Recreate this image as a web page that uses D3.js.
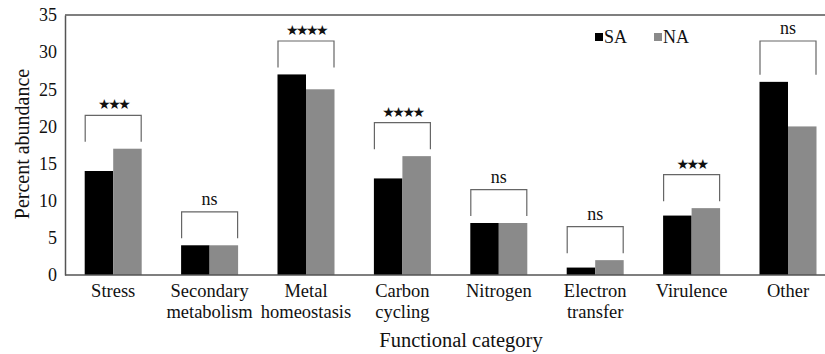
<!DOCTYPE html>
<html>
<head>
<meta charset="utf-8">
<script src="https://cdn.jsdelivr.net/npm/d3@7"></script>
<style>
  html, body { margin: 0; padding: 0; background: #fff; }
  svg { display: block; }
</style>
</head>
<body>
<svg id="chart" width="825" height="354"></svg>
<script>
// Functional categories (two-line labels split on "\n")
const categories = ["Stress", "Secondary\nmetabolism", "Metal\nhomeostasis", "Carbon\ncycling",
                    "Nitrogen", "Electron\ntransfer", "Virulence", "Other"];
const seriesNames = ["SA", "NA"];
const saValues = [14, 4, 27, 13, 7, 1, 8, 26];
const naValues = [17, 4, 25, 16, 7, 2, 9, 20];
// Significance annotations and the level (in %) of each bracket's top bar
const significance = ["★★★", "ns", "★★★★", "★★★★", "ns", "ns", "★★★", "ns"];
const bracketLevel = [21.5, 8.5, 31.5, 20.5, 11.5, 6.5, 13.5, 31.5];
const yTicks = [0, 5, 10, 15, 20, 25, 30, 35];
const colors = { SA: "#000000", NA: "#8a8a8a" };

const SERIF = "'Liberation Serif', 'Times New Roman', serif";
const W = 825, H = 354;
const margin = { top: 15, right: 0, bottom: 79, left: 65 };
const svg = d3.select("#chart");

const plotBottom = H - margin.bottom;
const step = 96.4;
const x = d3.scaleBand()
  .domain(categories)
  .range([margin.left, margin.left + step * categories.length])
  .paddingInner(0).paddingOuter(0);
const bandInner = 57;   // width of the SA+NA pair
const xs = d3.scaleBand().domain(seriesNames).range([0, bandInner]);
const y = d3.scaleLinear().domain([0, 35]).range([plotBottom, margin.top]);

const axisColor = "#555";
const txtColor = "#111";

// Bars
const rows = categories.map((c, i) => ({ c, SA: saValues[i], NA: naValues[i], i }));
const groups = svg.append("g").selectAll("g").data(rows).join("g")
  .attr("transform", d => `translate(${x(d.c) + (x.bandwidth() - bandInner) / 2},0)`);
groups.selectAll("rect")
  .data(d => seriesNames.map(s => ({ s, v: d[s] })))
  .join("rect")
  .attr("x", d => xs(d.s))
  .attr("width", xs.bandwidth())
  .attr("y", d => y(d.v))
  .attr("height", d => y(0) - y(d.v))
  .attr("fill", d => colors[d.s]);

// Significance brackets
groups.each(function (d) {
  const g = d3.select(this);
  const top = y(bracketLevel[d.i]);
  const legEnd = y(Math.max(d.SA, d.NA)) - 7;
  const x0 = xs("SA") + 0.5, x1 = xs("NA") + xs.bandwidth() - 0.5;
  g.append("path")
    .attr("d", `M${x0},${legEnd}V${top}H${x1}V${legEnd}`)
    .attr("fill", "none").attr("stroke", "#666").attr("stroke-width", 1.2);
  const isStar = significance[d.i] !== "ns";
  g.append("text")
    .attr("x", (x0 + x1) / 2)
    .attr("y", top - (isStar ? 6 : 7))
    .attr("text-anchor", "middle")
    .style("font-family", isStar ? "'DejaVu Sans', sans-serif" : SERIF)
    .style("font-size", isStar ? "14px" : "18px")
    .style("letter-spacing", isStar ? "-2.5px" : "0px")
    .style("fill", txtColor)
    .text(significance[d.i]);
});

// Y axis
const yAxis = d3.axisLeft(y).tickValues(yTicks).tickSize(0).tickPadding(8);
const yg = svg.append("g").attr("transform", `translate(${margin.left},0)`).call(yAxis);
yg.select(".domain").attr("stroke", axisColor).attr("stroke-width", 1.5);
yg.selectAll("text")
  .style("font-family", SERIF).style("font-size", "18px").style("fill", txtColor);

// X axis line and the top frame line
svg.append("line").attr("x1", margin.left).attr("x2", W).attr("y1", plotBottom).attr("y2", plotBottom)
  .attr("stroke", axisColor).attr("stroke-width", 1.5);
svg.append("line").attr("x1", margin.left).attr("x2", W).attr("y1", margin.top).attr("y2", margin.top)
  .attr("stroke", axisColor).attr("stroke-width", 1.5);

// Category labels
const xl = svg.append("g");
categories.forEach(c => {
  const cx = x(c) + x.bandwidth() / 2;
  const t = xl.append("text")
    .attr("x", cx)
    .attr("y", plotBottom + 22)
    .attr("text-anchor", "middle")
    .style("font-family", SERIF).style("font-size", "18.5px").style("fill", txtColor);
  c.split("\n").forEach((ln, k) => t.append("tspan").attr("x", cx).attr("dy", k ? 21 : 0).text(ln));
});

// Axis titles
svg.append("text").attr("x", 461).attr("y", 347).attr("text-anchor", "middle")
  .style("font-family", SERIF).style("font-size", "20.5px").style("fill", txtColor)
  .text("Functional category");
svg.append("text").attr("transform", `translate(29,144) rotate(-90)`)
  .attr("text-anchor", "middle")
  .style("font-family", SERIF).style("font-size", "20px").style("fill", txtColor)
  .text("Percent abundance");

// Legend
const legend = svg.append("g").attr("transform", "translate(595,33)");
const legendX = [0, 59];
seriesNames.forEach((s, k) => {
  legend.append("rect").attr("x", legendX[k]).attr("y", 0).attr("width", 8).attr("height", 8).attr("fill", colors[s]);
  legend.append("text").attr("x", legendX[k] + 9).attr("y", 10)
    .style("font-family", SERIF).style("font-size", "18px").style("fill", txtColor)
    .text(s);
});
</script>
</body>
</html>
